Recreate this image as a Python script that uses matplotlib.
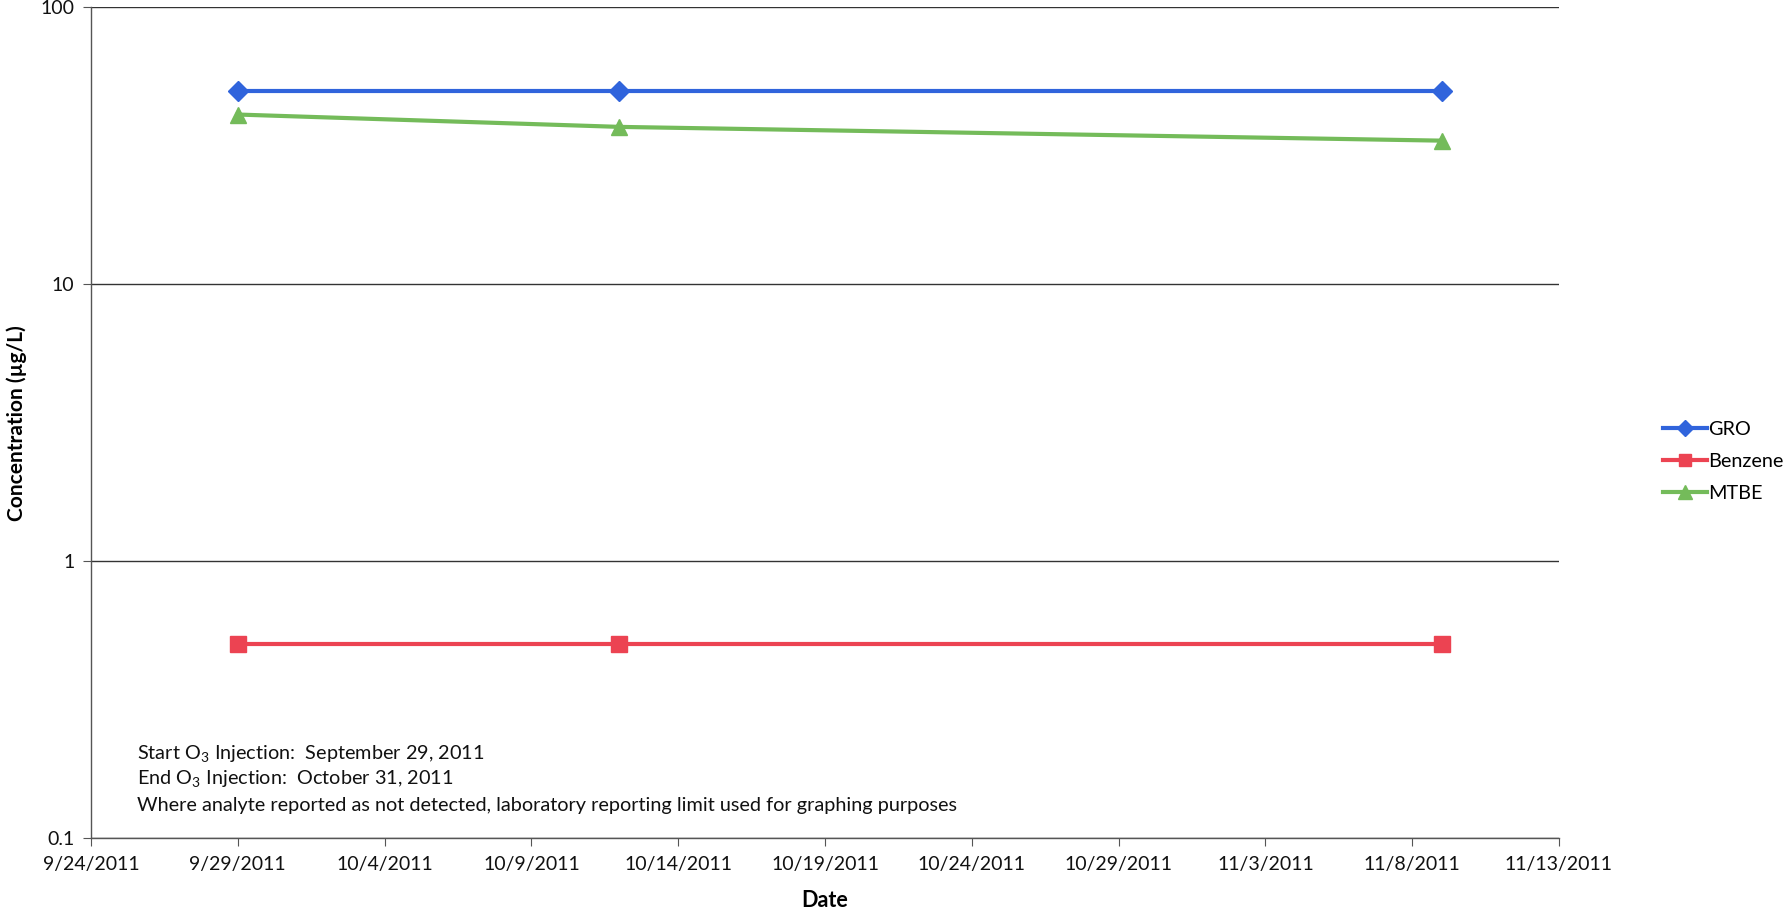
import datetime as dt
import matplotlib
matplotlib.use("Agg")
import matplotlib.pyplot as plt
import matplotlib.dates as mdates
from matplotlib.ticker import FixedLocator, FuncFormatter, NullLocator

# sample dates and concentrations (ug/L)
dates = [dt.date(2011, 9, 29), dt.date(2011, 10, 12), dt.date(2011, 11, 9)]
gro = [50, 50, 50]
benzene = [0.5, 0.5, 0.5]
mtbe = [41, 37, 33]

x_start = dt.date(2011, 9, 24)
x_end = dt.date(2011, 11, 13)
tick_dates = [x_start + dt.timedelta(days=5 * i) for i in range(11)]
y_ticks = [0.1, 1, 10, 100]

notes = [
    "Start O$_3$ Injection:  September 29, 2011",
    "End O$_3$ Injection:  October 31, 2011",
    "Where analyte reported as not detected, laboratory reporting limit used for graphing purposes",
]

plt.rcParams["font.family"] = ["Lato", "DejaVu Sans"]
plt.rcParams["mathtext.fontset"] = "custom"
plt.rcParams["mathtext.rm"] = "Lato"

fig = plt.figure(figsize=(17.88, 9.16), dpi=100)
ax = fig.add_axes([0.0509, 0.0852, 0.8210, 0.9068])

series = [
    ("GRO", gro, "#3064dc", "D", 10),
    ("Benzene", benzene, "#ec4352", "s", 11),
    ("MTBE", mtbe, "#74bb5a", "^", 12),
]
for name, vals, col, mk, ms in series:
    ax.plot(dates, vals, color=col, lw=3, marker=mk, markersize=ms,
            markeredgecolor=col, label=name)

ax.set_yscale("log")
ax.set_ylim(0.1, 100)
ax.yaxis.set_major_locator(FixedLocator(y_ticks))
ax.yaxis.set_minor_locator(NullLocator())
ax.yaxis.set_major_formatter(FuncFormatter(lambda v, p: f"{v:g}"))
ax.grid(axis="y", color="#333333", lw=1.0)

ax.set_xlim(mdates.date2num(x_start), mdates.date2num(x_end))
ax.xaxis.set_major_locator(FixedLocator(mdates.date2num(tick_dates)))
ax.xaxis.set_major_formatter(FuncFormatter(
    lambda v, p: (lambda d: f"{d.month}/{d.day}/{d.year}")(mdates.num2date(v))))

for s in ["top", "right"]:
    ax.spines[s].set_visible(False)
for s in ["left", "bottom"]:
    ax.spines[s].set_color("#555555")
    ax.spines[s].set_linewidth(1.0)
ax.tick_params(axis="both", direction="out", length=6, color="#555555",
               labelsize=14, labelcolor="#111111")
ax.tick_params(axis="x", pad=7)
ax.tick_params(axis="y", pad=6)

ax.set_xlabel("Date", fontsize=15.5, fontweight="bold", labelpad=12)
ax.set_ylabel("Concentration (µg/L)", fontsize=15, fontweight="bold")
ax.yaxis.set_label_coords(-0.0435, 0.5)

for i, t in enumerate(notes):
    ax.text(0.031, 0.101 - i * 0.031, t, transform=ax.transAxes,
            fontsize=14.3, color="#111111", va="center")

leg = fig.legend(loc="center left", bbox_to_anchor=(0.92, 0.496), frameon=False,
                 fontsize=14.3, handlelength=2.2, handletextpad=0.1, labelspacing=0.75,
                 markerscale=0.8)

fig.savefig("out.png", dpi=100, facecolor="white")
